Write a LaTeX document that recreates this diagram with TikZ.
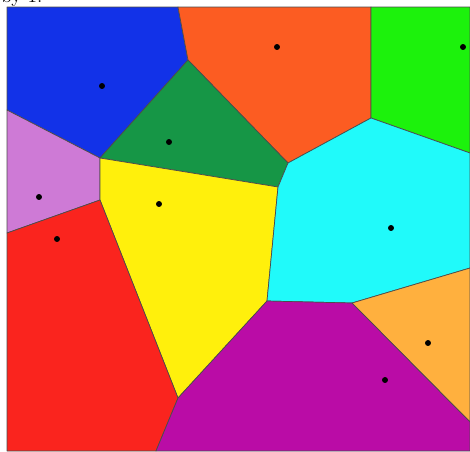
\documentclass[tikz,border=0pt]{standalone}
\usetikzlibrary{positioning}
\definecolor{cellblue}{RGB}{18,50,232}
\definecolor{cellorange}{RGB}{252,92,34}
\definecolor{celllime}{RGB}{28,242,12}
\definecolor{cellgreen}{RGB}{22,150,70}
\definecolor{cellpink}{RGB}{206,122,214}
\definecolor{cellyellow}{RGB}{255,240,12}
\definecolor{cellred}{RGB}{250,36,30}
\definecolor{cellcyan}{RGB}{32,250,250}
\definecolor{cellpeach}{RGB}{255,176,62}
\definecolor{cellpurple}{RGB}{186,12,166}

\begin{document}
\begin{tikzpicture}[x=0.02cm, y=-0.02cm,
    cell/.style={draw=black!70, line width=0.4pt, line join=round},
    seed/.style={circle, fill=black, inner sep=0pt, minimum size=3.4pt}]
  \useasboundingbox (0,0) rectangle (470,451);
  \node[anchor=base west, inner sep=0pt, font=\fontsize{11}{13}\selectfont] (caption) at (1,2) {by 1.};

  \coordinate (tl) at (7,7);
  \coordinate (tr) at (470,7);
  \coordinate (br) at (470,451);
  \coordinate (bl) at (7,451);
  \coordinate (a) at (178,7);
  \coordinate (b) at (188,60);
  \coordinate (c) at (100,158);
  \coordinate (d) at (100,200);
  \coordinate (e) at (7,110);
  \coordinate (f) at (7,233);
  \coordinate (g) at (288,163);
  \coordinate (h) at (278,187);
  \coordinate (i) at (267,301);
  \coordinate (j) at (178,398);
  \coordinate (k) at (156,451);
  \coordinate (l) at (352,303);
  \coordinate (m) at (470,268);
  \coordinate (n) at (470,422);
  \coordinate (o) at (371,118);
  \coordinate (p) at (470,153);
  \coordinate (q) at (371,7);

  \filldraw[cell, fill=cellblue] (tl) -- (a) -- (b) -- (c) -- (e) -- cycle;
  \filldraw[cell, fill=cellorange] (a) -- (q) -- (o) -- (g) -- (b) -- cycle;
  \filldraw[cell, fill=celllime] (q) -- (tr) -- (p) -- (o) -- cycle;
  \filldraw[cell, fill=cellgreen] (b) -- (g) -- (h) -- (c) -- cycle;
  \filldraw[cell, fill=cellpink] (e) -- (c) -- (d) -- (f) -- cycle;
  \filldraw[cell, fill=cellyellow] (c) -- (h) -- (i) -- (j) -- (d) -- cycle;
  \filldraw[cell, fill=cellred] (f) -- (d) -- (j) -- (k) -- (bl) -- cycle;
  \filldraw[cell, fill=cellcyan] (g) -- (o) -- (p) -- (m) -- (l) -- (i) -- (h) -- cycle;
  \filldraw[cell, fill=cellpeach] (l) -- (m) -- (n) -- cycle;
  \filldraw[cell, fill=cellpurple] (i) -- (l) -- (n) -- (br) -- (k) -- (j) -- cycle;

  \node[seed] (sblue) at (102,86) {};
  \node[seed] (sorange) at (277,47) {};
  \node[seed] (slime) at (463,47) {};
  \node[seed] (sgreen) at (169,142) {};
  \node[seed] (spink) at (39,197) {};
  \node[seed] (syellow) at (159,204) {};
  \node[seed] (sred) at (57,239) {};
  \node[seed] (scyan) at (391,228) {};
  \node[seed] (speach) at (428,343) {};
  \node[seed] (spurple) at (385,380) {};
\end{tikzpicture}
\end{document}
